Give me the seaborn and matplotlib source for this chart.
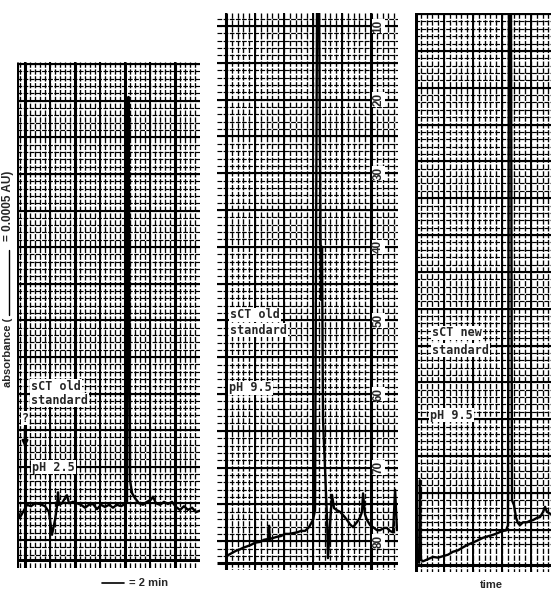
"""
Strip-chart recorder traces of sCT standards (old / new) at pH 2.5 and pH 9.5,
redrawn on chart-recorder paper.
"""

import matplotlib
matplotlib.use("Agg")
import matplotlib.pyplot as plt
from matplotlib.lines import Line2D
import numpy as np
import pandas as pd
import seaborn as sns

W, H = 551, 590  # figure size in pixels (dpi 100)

# ─── Data (time in min, recorder reading in % of full scale, 0 = top) ─────────

p1_time = [0, 0.24, 0.48, 0.8, 1.12, 1.44, 1.84, 2.24, 2.56, 2.8, 3.04, 3.2, 3.28, 3.36,
           3.6, 3.84, 4.0, 4.16, 4.48, 4.8, 5.12, 5.44, 5.76, 6.08, 6.4, 6.72, 7.04, 7.36,
           7.68, 8.0, 8.32, 8.64, 8.8, 8.9, 8.94, 9.04, 9.2, 9.44, 9.76, 10.08, 10.4,
           10.72, 10.88, 11.12, 11.44, 11.76, 12.08, 12.4, 12.72, 13.04, 13.36, 13.68,
           14.0, 14.32, 14.64]
p1_scale = [60.9, 61.9, 61.2, 60.2, 60.4, 60.0, 60.1, 60.4, 61.2, 64.3, 62.3, 60.4, 58.5, 60.2,
            60.0, 59.3, 58.9, 60.0, 59.8, 60.0, 60.2, 60.6, 60.2, 60.1, 60.8, 60.2, 60.5, 60.2,
            60.6, 60.2, 60.4, 60.1, 59.8, 4.5, 4.5, 56.8, 58.6, 59.3, 60.0, 60.2, 59.8,
            59.5, 59.1, 60.0, 60.2, 59.8, 60.1, 59.8, 60.5, 60.9, 60.4, 60.9,
            60.6, 61.2, 61.0]

p2_time = [0.14, 0.41, 0.69, 0.97, 1.17, 1.45, 1.72, 2.0, 2.34, 2.62, 2.90, 2.97, 3.03, 3.17,
           3.52, 3.79, 4.07, 4.34, 4.62, 4.90, 5.17, 5.45, 5.72, 6.0, 6.14, 6.28, 6.41, 6.55,
           6.62, 6.69, 6.83, 6.97, 7.03, 7.17, 7.31, 7.45, 7.66, 7.86, 8.14, 8.34, 8.55,
           8.76, 9.03, 9.24, 9.38, 9.45, 9.59, 9.72, 9.93, 10.14, 10.41, 10.62, 10.90,
           11.10, 11.31, 11.52, 11.66, 11.79]
p2_scale = [81.9, 81.6, 81.3, 81.1, 80.9, 80.7, 80.5, 80.2, 80.1, 79.8, 79.7, 77.9, 79.7, 79.6,
            79.4, 79.3, 79.0, 79.0, 78.9, 78.8, 78.6, 78.6, 78.1, 77.1, 75.8, 5.0, 5.0, 47.2,
            40.0, 63.5, 70.3, 77.1, 82.3, 77.8, 73.7, 75.5, 75.8, 76.0, 76.6, 77.1, 77.7,
            78.1, 77.4, 76.8, 76.0, 73.5, 76.4, 77.1, 77.8, 78.1, 78.5, 78.5, 78.2,
            78.2, 78.6, 78.8, 73.0, 78.5]

p3_time = [0.28, 0.34, 0.41, 0.55, 0.90, 1.24, 1.59, 1.93, 2.28, 2.62, 2.97, 3.31, 3.59, 3.93,
           4.28, 4.69, 5.03, 5.38, 5.66, 6.0, 6.28, 6.41, 6.48, 6.62, 6.69, 6.83, 6.97, 7.10,
           7.24, 7.45, 7.72, 7.93, 8.14, 8.41, 8.62, 8.83, 8.97, 9.10, 9.38]
p3_scale = [74.5, 63.3, 74.1, 74.3, 74.0, 73.7, 73.8, 73.6, 73.4, 73.0, 72.8, 72.4, 72.1, 71.8,
            71.5, 71.1, 70.9, 70.7, 70.5, 70.2, 70.1, 69.4, -1.0, -1.0, 66.0, 66.7, 68.4, 69.1,
            69.4, 69.0, 69.0, 68.8, 68.7, 68.4, 68.3, 67.6, 66.9, 67.6, 67.9]

paper_labels = [10, 20, 30, 40, 50, 60, 70, 80]

# ─── Style ────────────────────────────────────────────────────────────────────

sns.set_style("white")
plt.rcParams["font.family"] = ["Liberation Sans", "DejaVu Sans"]
MONO = "DejaVu Sans Mono"
MINOR = dict(color="black", ls=(0, (4, 1.2)), zorder=1)


def px(x, y):
    """pixel position -> figure fraction"""
    return x / W, 1 - y / H


def add_panel(fig, left, top, right, bottom):
    ax = fig.add_axes([left / W, 1 - bottom / H, (right - left) / W, (bottom - top) / H])
    ax.set_axis_off()
    return ax


def draw_paper(ax, xlim, ylim, v_start, heavy, h_last, base):
    """chart-recorder grid: minor every 0.4 min / 1 %, major every 2 min / 5 %"""
    ax.set_xlim(xlim)
    ax.set_ylim(ylim)
    top, bot = ylim[1], ylim[0]
    xs_minor = np.arange(v_start % 0.4, xlim[1], 0.4)
    ax.vlines(xs_minor, top, bot, lw=0.95, **MINOR)
    ax.vlines(np.arange(v_start, xlim[1], 2), top, bot, color="black", lw=1.4, zorder=1)
    ax.vlines(heavy, top, bot, color="black", lw=2.2, zorder=1)
    ax.hlines(np.arange(np.ceil(top), h_last + 2.5, 1), xlim[0], xlim[1], lw=0.85, **MINOR)
    ax.hlines(np.arange(5 * np.ceil(top / 5), h_last + 0.1, 5), xlim[0], xlim[1],
              color="black", lw=1.5, zorder=1)
    ax.hlines(base, xlim[0], xlim[1], color="black", lw=2.2, zorder=1)


def trace(ax, t, s):
    df = pd.DataFrame({"time": t, "scale": s})
    sns.lineplot(data=df, x="time", y="scale", ax=ax, sort=False, estimator=None,
                 color="black", lw=1.7, zorder=3)
    ax.set_axis_off()


def label(ax, x, y, s, size=8.5):
    ax.text(*px(x, y), s, transform=ax.figure.transFigure, family=MONO,
            fontweight="bold", fontsize=size, ha="left", va="center", zorder=5,
            bbox=dict(fc="white", ec="none", pad=0.6))


fig = plt.figure(figsize=(W / 100, H / 100), dpi=100)

# ─── Panel 1: pH 2.5, sCT old standard ────────────────────────────────────────
ax1 = add_panel(fig, 17, 62, 200, 568)
draw_paper(ax1, (0, 14.64), (68.84, -0.29), 0.64, [0.03, 0.64, 4.64, 8.64, 12.64], 65, 67.74)
trace(ax1, p1_time, p1_scale)
ax1.set_xlim(0, 14.64)
ax1.set_ylim(68.84, -0.29)
label(ax1, 31, 386, "sCT old")
label(ax1, 31, 400, "standard")
label(ax1, 32, 467, "pH 2.5")
fig.text(*px(25, 418), "?", family=MONO, fontweight="bold", fontsize=8.5,
         ha="center", va="center", bbox=dict(fc="white", ec="none", pad=0.3))
ax1.annotate("", xy=px(25, 450), xytext=px(25, 425), xycoords="figure fraction",
             textcoords="figure fraction",
             arrowprops=dict(arrowstyle="-|>", color="black", lw=1.8, mutation_scale=8))

# ─── Panel 2: pH 9.5, sCT old standard ────────────────────────────────────────
ax2 = add_panel(fig, 217, 13, 398, 570)
draw_paper(ax2, (-0.62, 11.86), (83.91, 8.23), 0.0, [0.0, 10.0], 80, 82.96)
trace(ax2, p2_time, p2_scale)
ax2.set_xlim(-0.62, 11.86)
ax2.set_ylim(83.91, 8.23)
for v in paper_labels:
    ax2.text(10.5, v, str(v), rotation=90, ha="center", va="center", fontsize=8.5,
             fontweight="bold", zorder=5, bbox=dict(fc="white", ec="none", pad=0.5))
label(ax2, 230, 315, "sCT old")
label(ax2, 230, 330, "standard")
label(ax2, 229, 388, "pH 9.5")

# ─── Panel 3: pH 9.5, sCT new standard ────────────────────────────────────────
ax3 = add_panel(fig, 415, 13, 560, 572)
draw_paper(ax3, (0, 10.0), (75.75, -0.15), 0.0, [0.05], 70, 74.8)
trace(ax3, p3_time, p3_scale)
ax3.set_xlim(0, 10.0)
ax3.set_ylim(75.75, -0.15)
label(ax3, 432, 333, "sCT new")
label(ax3, 432, 350, "standard")
label(ax3, 430, 415, "pH 9.5")

# ─── Axis annotations ─────────────────────────────────────────────────────────
fig.text(*px(8, 352), "absorbance (", rotation=90, ha="center", va="center",
         fontsize=8, fontweight="bold")
fig.add_artist(Line2D([9 / W, 9 / W], [1 - 315 / H, 1 - 250 / H], color="black", lw=1.0))
fig.text(*px(8, 206), "= 0.0005 AU)", rotation=90, ha="center", va="center",
         fontsize=8.5, fontweight="bold")

fig.add_artist(Line2D([102 / W, 124 / W], [1 - 583 / H] * 2, color="black", lw=1.2))
fig.text(*px(129, 583), "= 2 min", ha="left", va="center", fontsize=8, fontweight="bold")
fig.text(*px(491, 585), "time", ha="center", va="center", fontsize=8, fontweight="bold")

fig.savefig("out.png", dpi=100)
